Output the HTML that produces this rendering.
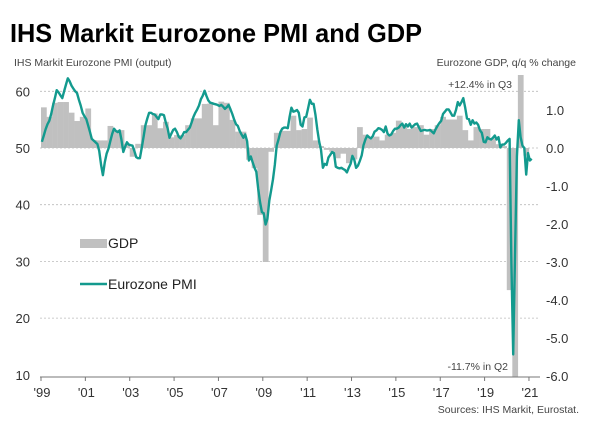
<!DOCTYPE html>
<html><head><meta charset="utf-8"><style>
body{margin:0;background:#fff;}
svg{display:block;font-family:"Liberation Sans",Arial,sans-serif;}
</style></head><body>
<svg id="chart" width="600" height="428" viewBox="0 0 600 428">
<text x="10" y="42" font-size="26" font-weight="bold" fill="#000" textLength="412" lengthAdjust="spacingAndGlyphs">IHS Markit Eurozone PMI and GDP</text>
<text x="14" y="66" font-size="10.5" fill="#444">IHS Markit Eurozone PMI (output)</text>
<text x="576" y="66" font-size="10.5" fill="#444" text-anchor="end">Eurozone GDP, q/q % change</text>
<g id="grid"></g>
<g id="bars"></g>
<path id="pmiLine" fill="none" stroke="#139a8e" stroke-width="2.4" stroke-linejoin="round"/>
<g id="axes"></g>
<text x="512" y="88" font-size="10.5" fill="#444" text-anchor="end">+12.4% in Q3</text>
<text x="508" y="370" font-size="10.5" fill="#444" text-anchor="end">-11.7% in Q2</text>
<g>
<rect x="80" y="239" width="27" height="9" fill="#c0c0c0"/>
<text x="108" y="248" font-size="14" fill="#222">GDP</text>
<line x1="80" y1="284" x2="107" y2="284" stroke="#139a8e" stroke-width="2.4"/>
<text x="108" y="289" font-size="14" fill="#222">Eurozone PMI</text>
</g>
<text x="579" y="413" font-size="10.5" fill="#444" text-anchor="end">Sources: IHS Markit, Eurostat.</text>
</svg>
<script>
const leftTicks=[10,20,30,40,50,60];
const rightTicks=["1.0","0.0","-1.0","-2.0","-3.0","-4.0","-5.0","-6.0"];
const yearLabels=["'99","'01","'03","'05","'07","'09","'11","'13","'15","'17","'19","'21"];
const gdp=[1.07,0.82,1.19,1.21, 1.21,0.93,0.71,0.82, 1.04,0.21,0.2,0.2, 0.58,0.47,0.47,0.11,
-0.23,0.11,0.6,0.6, 0.91,0.52,0.69,0.28, 0.34,0.34,0.6,0.78, 0.78,1.16,1.17,0.6,
1.22,1.19,0.74,0.43, 0.43,-0.31,-0.53,-1.76, -3.0,-0.1,0.4,0.45, 0.45,0.85,0.47,0.5,
0.8,0.2,0.05,-0.05, -0.1,-0.27,-0.15,-0.4, -0.3,0.55,0.35,0.28, 0.3,0.2,0.35,0.4,
0.72,0.6,0.5,0.55, 0.6,0.35,0.5,0.6, 0.82,0.75,0.75,0.85, 0.47,0.2,0.55,0.5,
0.5,0.25,0.1,0.05, -3.74,-11.7,12.4,-0.2];
const pmi=[51.1,52.2,53.3,54.2,54.8,56,57.5,58.8,60.2,59.8,59.3,58.8,
60,61.2,62.3,61.8,61,60.5,60,59.7,58.5,57.5,56.2,55.6,
55.1,54,52.8,51.6,51.3,51,50.7,49.5,47,45.2,47.5,49,
49.9,51.2,52.5,53.4,53,52.8,53.1,51.5,49.3,50.2,51,50.6,
50.5,50.4,49.5,48.4,48.2,48.2,50,52,54,55.2,56.2,56.2,
56,55.9,55.5,55.1,55.9,55.9,55.8,54.5,53.5,51.8,52.5,53.2,
53.4,52.8,52,51.7,52.2,52.8,52.8,53.2,53.6,54.5,55.5,56.2,
56.8,57.5,58.6,59.2,60.1,59.2,58.4,58,57.9,57.8,57.7,57.6,
57.4,57.6,57.3,56.9,57.2,57.6,56.8,56,55,54.2,53.9,53,
52.4,51.8,52.4,51.2,47.8,48.5,47.5,46.5,45.8,42.8,40.5,38.7,
38.5,36.5,37.5,40.7,42.5,44.5,47,50.4,51.5,52.8,53.4,53.6,
53.6,53.5,55.5,57.1,56.4,56.5,56.7,56.2,54.1,53.8,55.4,55.5,
57,58.5,57.8,57.8,55.8,53.3,51.1,49.7,46.5,47.2,47,48.3,
48.8,49.3,49.1,46.7,46.5,46.4,46.5,46.3,46.1,45.7,46.5,47.2,
48.6,47.9,46.5,46.9,47.7,48.7,50.5,51.5,52.2,51.9,51.7,52.1,
52.9,53.1,53.5,53.4,53.2,52.8,53.8,52.5,52.2,52.4,53,53.4,
53.4,53.6,54,54.3,53.6,54.2,53.8,54.3,53.6,53.9,54.2,54.3,
53.6,53,53.1,53.2,53.1,53.1,53.2,52.9,52.6,53.3,53.9,54.4,
54.8,56,56.4,56.8,56.8,56.3,55.7,55.7,56.7,58.1,57.5,58.1,
58.8,57.1,55.2,55.1,54.1,54.9,54.3,54.5,54.1,53.1,52.7,51.1,
51,51.9,51.6,51.5,51.8,52.2,51.5,51.9,50.1,50.6,50.6,50.9,
51.3,51.6,29.7,13.6,31.9,48.5,54.9,51.9,50.4,50.0,45.3,49.1,
47.8,48.1];

const NS='http://www.w3.org/2000/svg';
const X0=41, PX_PER_MONTH=22.18/12, PLOT_L=40, PLOT_R=540, PLOT_T=75, PLOT_B=377;
function xM(m){return X0+m*PX_PER_MONTH;}
function yL(v){return 148-(v-50)*5.67;}
function yR(v){return 148-v*38;}
function mk(tag,attrs,parent){const e=document.createElementNS(NS,tag);for(const k in attrs)e.setAttribute(k,attrs[k]);parent.appendChild(e);return e;}
const grid=document.getElementById('grid'),axes=document.getElementById('axes'),bars=document.getElementById('bars');
leftTicks.forEach(v=>{
  if(v>10){const l=mk('line',{x1:PLOT_L,x2:PLOT_R,y1:yL(v),y2:yL(v),stroke:'#bbb','stroke-width':0.8,'stroke-dasharray':'2,2'},grid);
  
  }
  const t=mk('text',{x:30,y:yL(v)+5,'font-size':13,fill:'#333','text-anchor':'end'},axes);t.textContent=v;
  
  
});
rightTicks.forEach(s=>{
  const t=mk('text',{x:546,y:yR(parseFloat(s))+5,'font-size':13,fill:'#333'},axes);t.textContent=s;
  
  
});
const bw=PX_PER_MONTH*3;
gdp.forEach((v,i)=>{
  let y1=yR(Math.max(v,0)),y2=yR(Math.min(v,0));
  y1=Math.max(y1,PLOT_T);y2=Math.min(y2,PLOT_B);
  const r=mk('rect',{x:xM(i*3),y:y1,width:bw+0.2,height:Math.max(y2-y1,0.5),fill:'#c0c0c0'},bars);
  
  
});
document.getElementById('pmiLine').setAttribute('d',pmi.map((v,i)=>(i?'L':'M')+xM(i+0.5).toFixed(1)+','+yL(v).toFixed(1)).join(''));
const ax=mk('line',{x1:PLOT_L,x2:PLOT_R,y1:PLOT_B,y2:PLOT_B,stroke:'#777','stroke-width':1},axes);


yearLabels.forEach((s,i)=>{
  const x=xM(i*24);
  mk('line',{x1:x,x2:x,y1:PLOT_B,y2:PLOT_B+4,stroke:'#777'},axes);
  const t=mk('text',{x:x+1,y:397,'font-size':13,fill:'#333','text-anchor':'middle'},axes);t.textContent=s;
  
  
});
</script>
</body></html>
